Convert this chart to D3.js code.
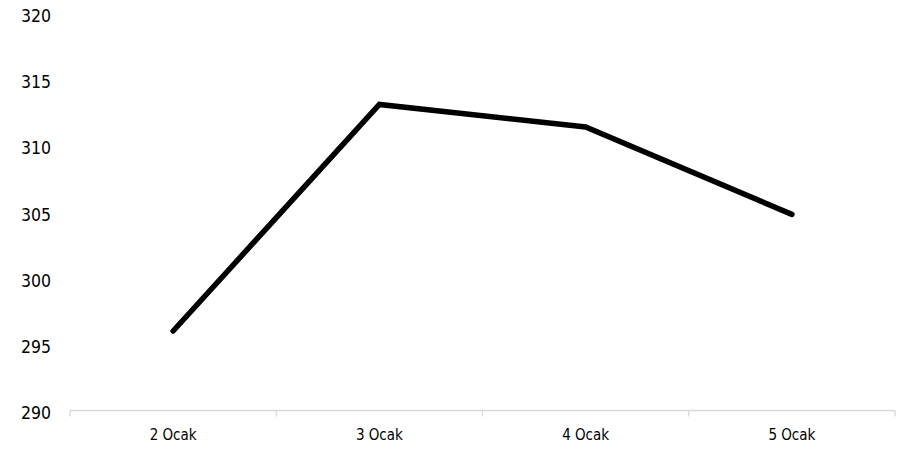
<!DOCTYPE html>
<html>
<head>
<meta charset="utf-8">
<script src="https://cdn.jsdelivr.net/npm/d3@7"></script>
<style>
  html, body { margin: 0; padding: 0; background: #ffffff; }
  svg { display: block; }
  .lbl { font-family: "DejaVu Sans Condensed", "DejaVu Sans", sans-serif; fill: #000; }
</style>
</head>
<body>
<svg id="chart" width="922" height="451"></svg>
<script>
// Daily values
const categories = ["2 Ocak", "3 Ocak", "4 Ocak", "5 Ocak"];
const values = [296.0, 313.1, 311.4, 304.8];
const yTicks = [290, 295, 300, 305, 310, 315, 320];

const W = 922, H = 451;
const margin = { left: 70, right: 27, top: 13, bottom: 40.5 };

const svg = d3.select("#chart");

const x = d3.scaleBand()
  .domain(categories)
  .range([margin.left, W - margin.right])
  .paddingInner(0)
  .paddingOuter(0);

const y = d3.scaleLinear()
  .domain([290, 320])
  .range([H - margin.bottom, margin.top]);

// Y labels (no axis line)
svg.append("g")
  .selectAll("text")
  .data(yTicks)
  .join("text")
  .attr("class", "lbl")
  .attr("x", 51)
  .attr("y", d => y(d) + 2.5)
  .attr("dy", "0.36em")
  .attr("text-anchor", "end")
  .attr("font-size", 17.5)
  .text(d => d);

// X axis baseline with category boundary ticks
const axisY = y(290);
const xg = svg.append("g");
xg.append("line")
  .attr("x1", x.range()[0]).attr("x2", x.range()[1])
  .attr("y1", axisY).attr("y2", axisY)
  .attr("stroke", "#d9d9d9").attr("stroke-width", 1.3);

const bounds = categories.map(c => x(c)).concat([x.range()[1]]);
xg.selectAll("line.tick")
  .data(bounds)
  .join("line")
  .attr("class", "tick")
  .attr("x1", d => d).attr("x2", d => d)
  .attr("y1", axisY).attr("y2", axisY + 6)
  .attr("stroke", "#d9d9d9").attr("stroke-width", 1.3);

xg.selectAll("text")
  .data(categories)
  .join("text")
  .attr("class", "lbl")
  .attr("x", d => x(d) + x.bandwidth() / 2)
  .attr("y", axisY + 29)
  .attr("text-anchor", "middle")
  .attr("font-size", 15)
  .text(d => d);

// Series line
const line = d3.line()
  .x((d, i) => x(categories[i]) + x.bandwidth() / 2)
  .y(d => y(d));

svg.append("path")
  .datum(values)
  .attr("d", line)
  .attr("fill", "none")
  .attr("stroke", "#000")
  .attr("stroke-width", 5.5)
  .attr("stroke-linecap", "round")
  .attr("stroke-linejoin", "miter");
</script>
</body>
</html>
